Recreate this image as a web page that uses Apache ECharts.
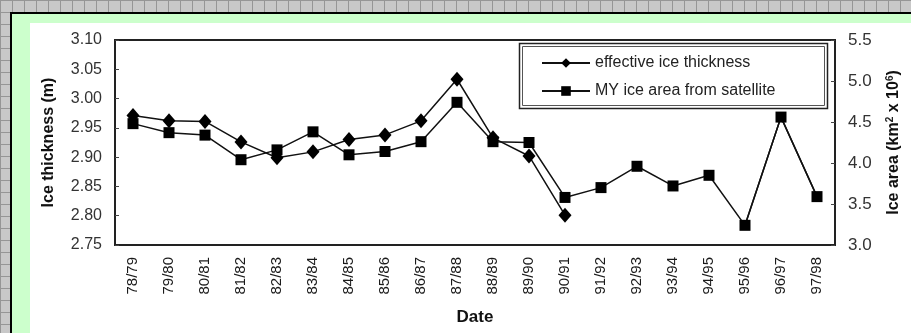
<!DOCTYPE html>
<html>
<head>
<meta charset="utf-8">
<script src="https://cdn.jsdelivr.net/npm/echarts@6/dist/echarts.min.js"></script>
<style>
  html, body { margin:0; padding:0; width:911px; height:333px; overflow:hidden; }
  body {
    background-color:#c8c8c8;
    background-image:
      linear-gradient(to right, #969696 1px, transparent 1px),
      linear-gradient(to bottom, #969696 1px, transparent 1px);
    background-size: 12px 12px;
  }
  #frame { position:absolute; left:10px; top:12px; width:910px; height:330px;
    border-left:2px solid #000; border-top:2px solid #000; background:#ccffcc; }
  #panel { position:absolute; left:30px; top:23px; width:881px; height:310px; background:#fff; }
  #chart { position:absolute; left:0; top:0; width:911px; height:333px; }
</style>
</head>
<body>
<div id="frame"></div>
<div id="panel"></div>
<div id="chart"></div>
<script>
const categories = ['78/79','79/80','80/81','81/82','82/83','83/84','84/85','85/86','86/87','87/88',
  '88/89','89/90','90/91','91/92','92/93','93/94','94/95','95/96','96/97','97/98'];
const thickness = [2.971, 2.962, 2.961, 2.926, 2.899, 2.909, 2.930, 2.938, 2.962, 3.033, 2.933, 2.902, 2.801];
const iceArea = [4.48, 4.37, 4.34, 4.04, 4.16, 4.38, 4.10, 4.14, 4.26, 4.74, 4.26, 4.25, 3.58, 3.70, 3.96, 3.72, 3.85, 3.24, 4.56, 3.59];
const leftTicks = { min: 2.75, max: 3.10, interval: 0.05 };
const rightTicks = { min: 3.0, max: 5.5, interval: 0.5 };

// tail of the ice-area line, traced backwards (same data, drawn again so the final segment renders)
const n = iceArea.length;
const iceAreaTail = [[n - 1, iceArea[n - 1]], [n - 2, iceArea[n - 2]], [n - 3, iceArea[n - 3]]];

const chart = echarts.init(document.getElementById('chart'), null, { renderer: 'canvas' });
const font = 'Liberation Sans, Arial, sans-serif';
const lineStyle = { color: '#111', width: 1.5 };
chart.setOption({
  backgroundColor: 'transparent',
  animation: false,
  textStyle: { fontFamily: font, color: '#222' },
  grid: { left: 115, right: 76, top: 40, bottom: 88, show: true, borderColor: '#222', borderWidth: 2, backgroundColor: 'transparent' },
  legend: {
    orient: 'vertical', left: 536, top: 50, itemWidth: 48, itemHeight: 12, itemGap: 12,
    textStyle: { fontSize: 16, color: '#222', fontFamily: font },
    data: ['effective ice thickness', 'MY ice area from satellite']
  },
  graphic: [
    { type: 'rect', shape: { x: 519.5, y: 43.5, width: 308, height: 65 }, style: { fill: 'transparent', stroke: '#222', lineWidth: 1.5 }, z: 100 },
    { type: 'rect', shape: { x: 522.5, y: 46.5, width: 302, height: 59 }, style: { fill: 'transparent', stroke: '#555', lineWidth: 1 }, z: 100 }
  ],
  xAxis: {
    type: 'category', data: categories, boundaryGap: true,
    name: 'Date', nameLocation: 'middle', nameGap: 64,
    nameTextStyle: { fontSize: 17, fontWeight: 'bold', color: '#111' },
    axisLine: { lineStyle: { color: '#222', width: 2 } },
    axisTick: { inside: true, length: 4, lineStyle: { color: '#444' } },
    axisLabel: { rotate: 90, fontSize: 15, color: '#1a1a1a', margin: 12 }
  },
  yAxis: [
    {
      type: 'value', min: leftTicks.min, max: leftTicks.max, interval: leftTicks.interval,
      name: 'Ice thickness (m)', nameLocation: 'middle', nameGap: 58, nameRotate: 90,
      nameTextStyle: { fontSize: 16, fontWeight: 'bold', color: '#111' },
      axisLine: { show: true, lineStyle: { color: '#222', width: 2 } },
      axisTick: { show: true, inside: true, length: 4, lineStyle: { color: '#444' } },
      splitLine: { show: false },
      axisLabel: { fontSize: 16, color: '#333', margin: 13, formatter: v => v.toFixed(2) }
    },
    {
      type: 'value', min: rightTicks.min, max: rightTicks.max, interval: rightTicks.interval,
      position: 'right',
      name: 'Ice area (km{sup|2} x 10{sup|6})', nameLocation: 'middle', nameGap: 50, nameRotate: 90,
      nameTextStyle: { fontSize: 16, fontWeight: 'bold', color: '#111',
        rich: { sup: { fontSize: 10, fontWeight: 'bold', verticalAlign: 'top', padding: [0,0,8,0] } } },
      axisLine: { show: true, lineStyle: { color: '#222', width: 2 } },
      axisTick: { show: true, inside: true, length: 4, lineStyle: { color: '#444' } },
      splitLine: { show: false },
      axisLabel: { fontSize: 17, color: '#333', margin: 13, formatter: v => v.toFixed(1) }
    }
  ],
  series: [
    {
      name: 'effective ice thickness', type: 'line', yAxisIndex: 0, data: thickness,
      symbol: 'diamond', symbolSize: [13, 15],
      itemStyle: { color: '#000' }, lineStyle: lineStyle
    },
    {
      name: 'MY ice area from satellite', type: 'line', yAxisIndex: 1, data: iceArea,
      symbol: 'rect', symbolSize: 11,
      itemStyle: { color: '#000' }, lineStyle: lineStyle
    },
    {
      name: 'MY ice area from satellite', type: 'line', yAxisIndex: 1, data: iceAreaTail,
      symbol: 'none', silent: true,
      itemStyle: { color: '#000' }, lineStyle: lineStyle
    }
  ]
});
</script>
</body>
</html>
